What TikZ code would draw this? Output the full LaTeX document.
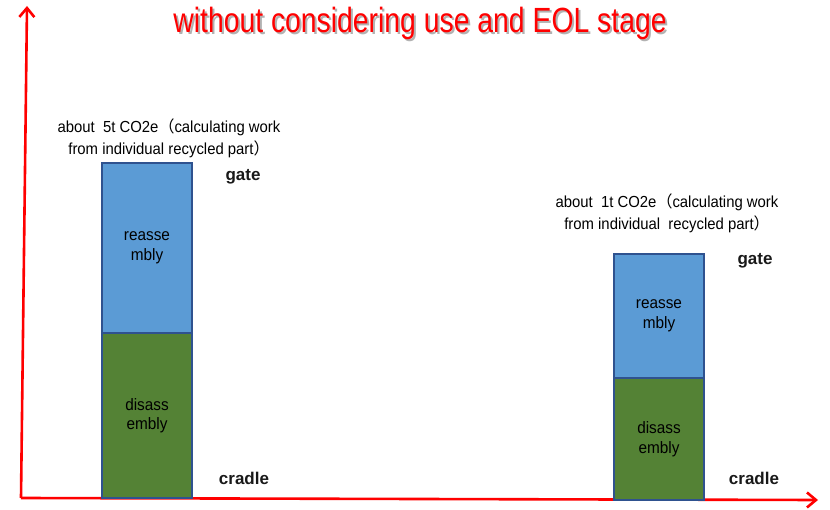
\documentclass[tikz,border=0pt]{standalone}
\usepackage{fontspec}
\setmainfont{Liberation Sans}
\newfontfamily\cjk{Noto Sans CJK SC}
\newfontfamily\bodyfont[FakeStretch=0.93]{Liberation Sans}
\newfontfamily\headfont[FakeStretch=0.81]{Liberation Sans}
\usetikzlibrary{arrows.meta}
\definecolor{axisred}{RGB}{255,0,0}
\definecolor{barblue}{RGB}{91,155,213}
\definecolor{bargreen}{RGB}{84,130,53}
\definecolor{barline}{RGB}{47,82,143}
% text with a soft grey drop shadow behind it
\newcommand{\shadowed}[1]{\rlap{\hspace{2pt}\raisebox{-2pt}{\color{black!30}#1}}{\color{axisred}#1}}
\tikzset{
  axis/.style={draw=axisred, line width=2.6pt, -{Straight Barb[length=9pt,width=15pt,line width=2.6pt]}},
  part/.style={draw=barline, line width=2pt, inner sep=0pt, outer sep=0pt},
  lbl/.style={font=\bodyfont\fontsize{16.5}{19.5}\selectfont, align=center, text=black},
  stage/.style={font=\fontsize{17}{19}\selectfont\bfseries, text=black!90},
  note/.style={font=\bodyfont\fontsize{16}{22}\selectfont, align=center, text=black, inner sep=0pt},
  heading/.style={font=\headfont\fontsize{35}{38}\selectfont, anchor=base}
}
\begin{document}
\begin{tikzpicture}[x=1pt,y=-1pt]
\useasboundingbox (0,0) rectangle (830,510);
% title
\node[heading] (title) at (420,33) {\shadowed{without considering use and EOL stage}};
% axes
\coordinate (origin) at (21,498);
\coordinate (ytip) at (27,6);
\coordinate (xtip) at (818,500);
\draw[axis] (origin) -- (ytip);
\draw[axis] (origin) -- (xtip);
% left column
\node[part, fill=barblue, minimum width=90pt, minimum height=170pt] (reA) at (147,248) {};
\node[part, fill=bargreen, minimum width=90pt, minimum height=165pt] (diA) at (147,415.5) {};
\node[lbl] at (reA) {reasse\\mbly};
\node[lbl] at (diA) {disass\\embly};
\node[note] (noteA) at (169,138) {about\ \ 5t CO2e{\cjk （}calculating work\\from individual recycled part{\cjk ）}};
\node[stage] (gateA) at (243,177) {gate};
\node[stage] (cradleA) at (244,478) {cradle};
% right column
\node[part, fill=barblue, minimum width=90pt, minimum height=124pt] (reB) at (659,316) {};
\node[part, fill=bargreen, minimum width=90pt, minimum height=122pt] (diB) at (659,439) {};
\node[lbl] at (reB) {reasse\\mbly};
\node[lbl] at (diB) {disass\\embly};
\node[note] (noteB) at (667,213) {about\ \ 1t CO2e{\cjk （}calculating work\\from individual\ \ recycled part{\cjk ）}};
\node[stage] (gateB) at (755,261) {gate};
\node[stage] (cradleB) at (754,478) {cradle};
\end{tikzpicture}
\end{document}
